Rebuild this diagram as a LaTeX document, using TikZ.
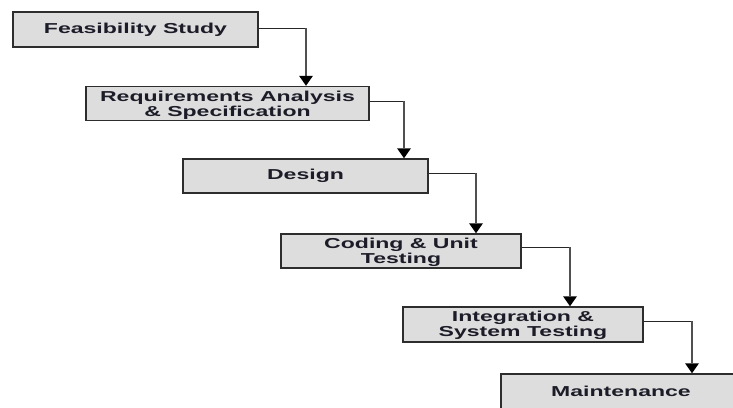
\documentclass[tikz,border=0pt]{standalone}
\usepackage{fontspec}
\usetikzlibrary{arrows.meta}
% wide sans-serif face for the stage labels
\newfontfamily\stagefont[FakeStretch=1.6]{Liberation Sans Bold}
\definecolor{boxfill}{RGB}{221,221,221}
\definecolor{boxline}{RGB}{45,45,45}
\definecolor{labeltext}{RGB}{28,28,40}
\definecolor{dropline}{RGB}{80,80,80}
\tikzset{
  stage/.style={draw=boxline, fill=boxfill, line width=1.5pt, inner sep=0pt,
    align=center, text=labeltext,
    font=\stagefont\fontsize{14.4}{16}\selectfont},
  runline/.style={draw=black!85, line width=1pt},
  dropline/.style={draw=dropline, line width=2.6pt,
    -{Triangle[length=10pt,width=14pt,fill=black,line width=0pt]}},
}
\begin{document}
\begin{tikzpicture}[x=1pt,y=-1pt]
  \useasboundingbox (0,0) rectangle (733,407);
  \clip (0,0) rectangle (733,407);
  \fill[white] (0,0) rectangle (733,407);

  % phases of the waterfall
  \node[stage, minimum width=245pt, minimum height=35pt] (fs)  at (135.5,29.5) {Feasibility Study};
  \node[stage, minimum width=283pt, minimum height=34pt] (req) at (227.5,103.5) {\rule{0pt}{13pt}Requirements Analysis\\[-1pt]\& Specification};
  \node[stage, minimum width=245pt, minimum height=34pt] (des) at (305.5,176) {Design};
  \node[stage, minimum width=240pt, minimum height=34pt] (cod) at (401,251) {\rule{0pt}{13pt}Coding \& Unit\\[-1pt]Testing};
  \node[stage, minimum width=240pt, minimum height=35pt] (int) at (523,324.5) {\rule{0pt}{13pt}Integration \&\\[-1pt]System Testing};
  \node[stage, minimum width=240pt, minimum height=35pt] (mnt) at (621,391.5) {Maintenance};

  % corners where each link turns downwards
  \coordinate (k1) at (306,28);
  \coordinate (k2) at (404,101);
  \coordinate (k3) at (476,173);
  \coordinate (k4) at (570,247);
  \coordinate (k5) at (692,321);

  % links: out of the right side, then down onto the next phase
  \draw[runline] (fs.east |- k1) -- (k1);
  \draw[dropline] (k1) -- (k1 |- req.north);
  \draw[runline] (req.east |- k2) -- (k2);
  \draw[dropline] (k2) -- (k2 |- des.north);
  \draw[runline] (des.east |- k3) -- (k3);
  \draw[dropline] (k3) -- (k3 |- cod.north);
  \draw[runline] (cod.east |- k4) -- (k4);
  \draw[dropline] (k4) -- (k4 |- int.north);
  \draw[runline] (int.east |- k5) -- (k5);
  \draw[dropline] (k5) -- (k5 |- mnt.north);
\end{tikzpicture}
\end{document}
